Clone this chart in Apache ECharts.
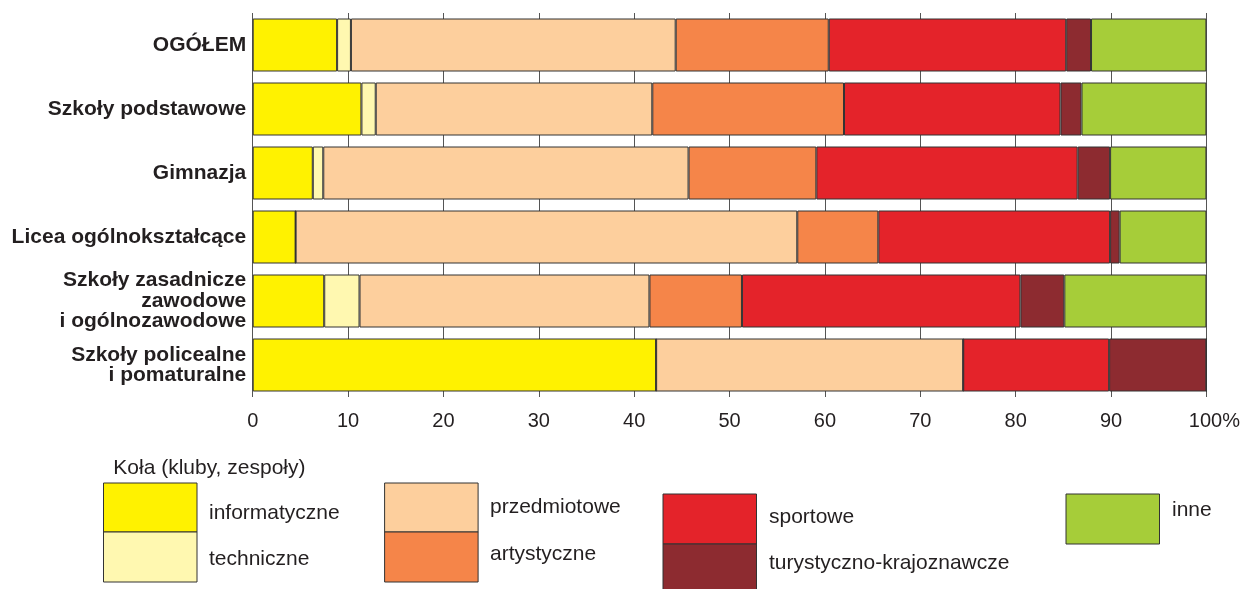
<!DOCTYPE html>
<html>
<head>
<meta charset="utf-8">
<script src="https://cdn.jsdelivr.net/npm/echarts@6/dist/echarts.min.js"></script>
<style>html,body{margin:0;padding:0;background:#fff;}#c{width:1243px;height:589px;}</style>
</head>
<body>
<div id="c"></div>
<script>
const categories = ['OGÓŁEM', 'Szkoły podstawowe', 'Gimnazja', 'Licea ogólnokształcące',
  'Szkoły zasadnicze\nzawodowe\ni ogólnozawodowe', 'Szkoły policealne\ni pomaturalne'];
const informatyczne = [8.85, 11.4, 6.3, 4.5, 7.5, 42.3];
const techniczne    = [1.45, 1.5, 1.1, 0, 3.7, 0];
const przedmiotowe  = [34.05, 29.0, 38.3, 52.6, 30.4, 32.2];
const artystyczne   = [16.05, 20.1, 13.4, 8.5, 9.7, 0];
const sportowe      = [24.9, 22.7, 27.4, 24.3, 29.2, 15.3];
const turystyczne   = [2.6, 2.2, 3.4, 1.0, 4.6, 10.2];
const inne          = [12.1, 13.1, 10.1, 9.1, 14.9, 0];
const seriesNames = ['informatyczne', 'techniczne', 'przedmiotowe', 'artystyczne', 'sportowe', 'turystyczno-krajoznawcze', 'inne'];
const legendTitle = 'Koła (kluby, zespoły)';
const tickLabels = ['0', '10', '20', '30', '40', '50', '60', '70', '80', '90', '100%'];

const seriesData = [informatyczne, techniczne, przedmiotowe, artystyczne, sportowe, turystyczne, inne];
const colors = ['#FFF200', '#FFF8B0', '#FDCF9D', '#F58549', '#E4232A', '#8D2B30', '#A6CD39'];
const txt = '#231f20';
const FONT = '"Liberation Sans", Arial, sans-serif';

const series = seriesNames.map((n, i) => ({
  name: n, type: 'bar', stack: 'all', barWidth: 53,
  data: seriesData[i],
  itemStyle: { color: colors[i], borderColor: '#333', borderWidth: 1 },
  emphasis: { disabled: true },
  silent: true
}));

// legend layout (boxes & labels)
const legendPos = [
  { bx: 103.5, by: 483, bh: 49, tx: 209, ty: 513 },
  { bx: 103.5, by: 532, bh: 50, tx: 209, ty: 559 },
  { bx: 384.6, by: 483, bh: 49, tx: 490, ty: 507 },
  { bx: 384.6, by: 532, bh: 50, tx: 490, ty: 554 },
  { bx: 663, by: 494, bh: 50, tx: 769, ty: 517 },
  { bx: 663, by: 544, bh: 52, tx: 769, ty: 563 },
  { bx: 1066, by: 494, bh: 50, tx: 1172, ty: 510 }
];
const graphic = [{
  type: 'text', x: 113.3, y: 468.7,
  style: { text: legendTitle, font: '21px ' + FONT, fill: txt, verticalAlign: 'middle' }
}];
legendPos.forEach((p, i) => {
  graphic.push({ type: 'rect', shape: { x: p.bx, y: p.by, width: 93.5, height: p.bh },
    style: { fill: colors[i], stroke: '#333', lineWidth: 1 } });
  graphic.push({ type: 'text', x: p.tx, y: p.ty,
    style: { text: seriesNames[i], font: '21px ' + FONT, fill: txt, verticalAlign: 'middle' } });
});

const chart = echarts.init(document.getElementById('c'));
chart.setOption({
  animation: false,
  backgroundColor: '#fff',
  grid: { left: 252.7, right: 35, top: 13, bottom: 192 },
  xAxis: {
    type: 'value', min: 0, max: 100, interval: 10,
    axisLine: { show: false }, axisTick: { show: false },
    splitLine: { show: true, lineStyle: { color: '#555', width: 1 } },
    axisLabel: {
      margin: 14, color: txt, fontSize: 20, fontFamily: FONT,
      formatter: (v) => {
        const i = Math.round(v / 10);
        return i === 10 ? '{s|}' + tickLabels[i] : tickLabels[i];
      },
      rich: { s: { width: 16 } }
    }
  },
  yAxis: {
    type: 'category', data: categories, inverse: true,
    axisLine: { show: false }, axisTick: { show: false },
    axisLabel: { margin: 6.5, color: txt, fontSize: 21, fontWeight: 'bold', fontFamily: FONT, lineHeight: 20.5 }
  },
  series: series,
  graphic: graphic
});
</script>
</body>
</html>
